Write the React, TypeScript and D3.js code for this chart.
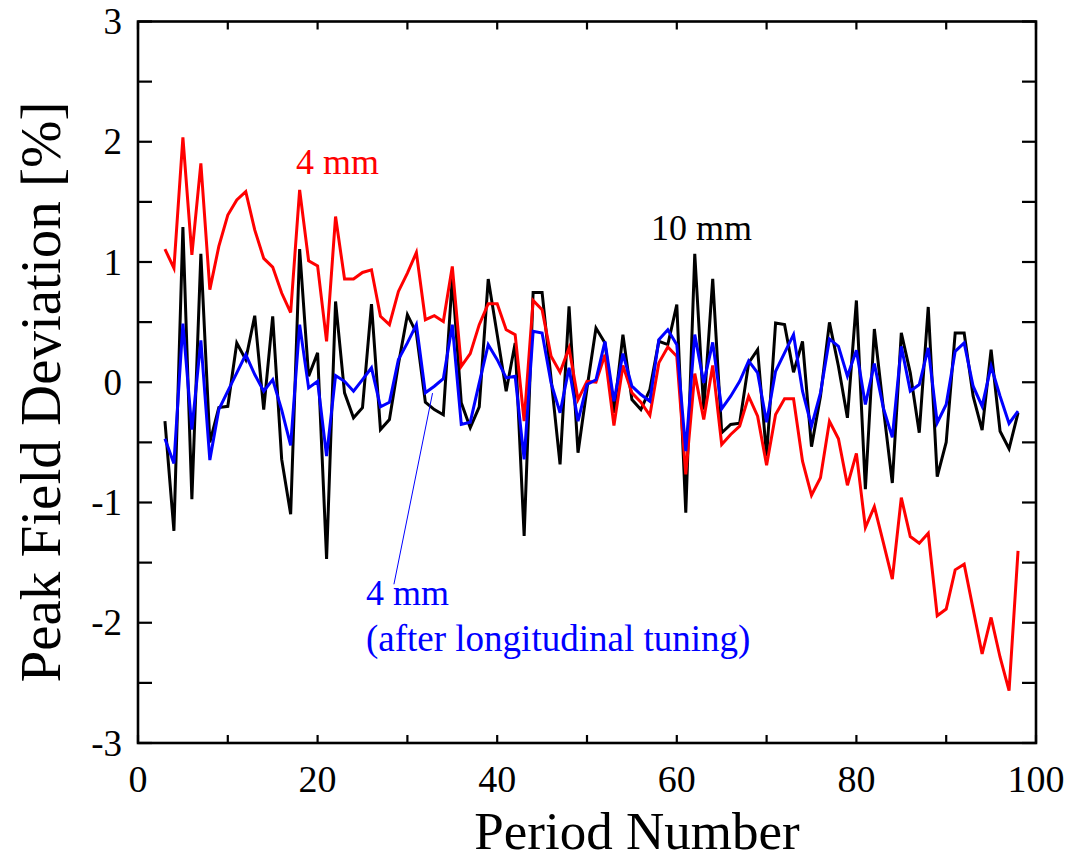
import React from "react";
import * as d3 from "d3";

const periods: number[] = d3.range(3, 99);

const black10mm: number[] = [
  -0.324, -1.236, 1.29, -0.973, 1.068, -0.5, -0.21, -0.2, 0.327, 0.188,
  0.553, -0.227, 0.548, -0.64, -1.098, 1.107, 0.05, 0.244, -1.47, 0.672,
  -0.088, -0.296, -0.212, 0.65, -0.393, -0.31, 0.15, 0.562, 0.41, -0.166,
  -0.227, -0.27, 0.866, -0.171, -0.378, -0.204, 0.858, 0.396, -0.074, 0.327,
  -1.278, 0.747, 0.747, 0.03, -0.683, 0.631, -0.586, -0.05, 0.451, 0.327,
  -0.254, 0.396, -0.144, -0.227, -0.061, 0.34, 0.313, 0.645, -1.084, 1.068,
  -0.227, 0.86, -0.42, -0.351, -0.34, 0.16, 0.271, -0.614, 0.493, 0.479,
  0.083, 0.34, -0.536, -0.116, 0.498, 0.133, -0.296, 0.68, -0.89, 0.443,
  -0.213, -0.838, 0.41, 0.078, -0.42, 0.626, -0.785, -0.498, 0.41, 0.41,
  -0.116, -0.398, 0.271, -0.407, -0.553, -0.254,
];

const red4mm: number[] = [
  1.107, 0.949, 2.036, 1.06, 1.82, 0.77, 1.13, 1.39, 1.516, 1.585,
  1.267, 1.03, 0.958, 0.742, 0.58, 1.6, 1.01, 0.968, 0.34, 1.378,
  0.858, 0.858, 0.913, 0.935, 0.548, 0.479, 0.755, 0.908, 1.079, 0.52,
  0.553, 0.506, 0.963, 0.133, 0.238, 0.479, 0.653, 0.653, 0.437, 0.396,
  -0.324, 0.68, 0.603, 0.216, 0.083, 0.285, -0.144, 0.008, 0.0, 0.23,
  -0.36, 0.139, -0.088, -0.166, -0.276, 0.161, 0.294, 0.216, -0.766, 0.072,
  -0.31, 0.139, -0.517, -0.434, -0.365, -0.116, -0.282, -0.691, -0.268, -0.138,
  -0.138, -0.656, -0.94, -0.794, -0.324, -0.47, -0.857, -0.592, -1.209, -1.034,
  -1.333, -1.637, -0.96, -1.283, -1.339, -1.256, -1.942, -1.886, -1.56, -1.513,
  -1.886, -2.26, -1.956, -2.287, -2.564, -1.402,
];

const blue4mmTuned: number[] = [
  -0.47, -0.675, 0.487, -0.393, 0.349, -0.647, -0.227, -0.074, 0.078, 0.23,
  0.064, -0.074, 0.022, -0.23, -0.525, 0.479, -0.047, 0.008, -0.614, 0.056,
  0.008, -0.074, 0.022, 0.12, -0.204, -0.166, 0.188, 0.327, 0.479, -0.088,
  -0.033, 0.03, 0.479, -0.351, -0.332, -0.005, 0.313, 0.188, 0.036, 0.05,
  -0.641, 0.423, 0.41, -0.005, -0.254, 0.12, -0.324, -0.019, 0.02, 0.34,
  -0.158, 0.238, -0.033, -0.102, -0.158, 0.354, 0.437, 0.313, -0.573, 0.396,
  -0.005, 0.332, -0.221, -0.116, 0.008, 0.178, 0.078, -0.332, 0.091, 0.244,
  0.396, -0.074, -0.365, -0.088, 0.36, 0.299, 0.05, 0.266, -0.185, 0.155,
  -0.213, -0.458, 0.299, -0.074, -0.019, 0.285, -0.337, -0.185, 0.257, 0.327,
  -0.033, -0.199, 0.133, -0.116, -0.343, -0.241,
];

const xTicks: number[] = d3.range(0, 101, 10);
const xLabels: number[] = [0, 20, 40, 60, 80, 100];
const yTicks: number[] = d3.range(-3, 3.01, 0.5);
const yLabels: number[] = [-3, -2, -1, 0, 1, 2, 3];

const W = 1066;
const H = 861;
const FONT = "'Liberation Serif', 'Times New Roman', serif";

export default function App() {
  const x = d3.scaleLinear().domain([0, 100]).range([138, 1036]);
  const y = d3.scaleLinear().domain([-3, 3]).range([743, 21.5]);

  const line = d3
    .line<number>()
    .x((_, i) => x(periods[i]))
    .y((d) => y(d));

  const [x0, x1] = x.range();
  const [y0, y1] = y.range();
  const tickX = 8;
  const tickY = 14;

  return (
    <svg
      width={W}
      height={H}
      style={{ position: "absolute", left: 0, top: 0, background: "#fff" }}
      fontFamily={FONT}
    >
      <rect x={0} y={0} width={W} height={H} fill="#fff" />
      {/* data lines */}
      <path d={line(black10mm) || ""} fill="none" stroke="#000" strokeWidth={3} strokeLinejoin="miter" />
      <path d={line(red4mm) || ""} fill="none" stroke="#ff0000" strokeWidth={3} strokeLinejoin="miter" />
      <path d={line(blue4mmTuned) || ""} fill="none" stroke="#0000ff" strokeWidth={3} strokeLinejoin="miter" />

      {/* pointer line */}
      <line x1={x(32.8)} y1={y(-0.09)} x2={x(28.5)} y2={y(-1.68)} stroke="#0000ff" strokeWidth={1} />

      {/* frame */}
      <rect x={x0} y={y1} width={x1 - x0} height={y0 - y1} fill="none" stroke="#000" strokeWidth={2.6} />

      {/* x ticks */}
      {xTicks.map((t) => (
        <g key={"xt" + t}>
          <line x1={x(t)} x2={x(t)} y1={y0} y2={y0 - tickX} stroke="#000" strokeWidth={2.2} />
          <line x1={x(t)} x2={x(t)} y1={y1} y2={y1 + tickX} stroke="#000" strokeWidth={2.2} />
        </g>
      ))}
      {/* y ticks */}
      {yTicks.map((t) => (
        <g key={"yt" + t}>
          <line x1={x0} x2={x0 + tickY} y1={y(t)} y2={y(t)} stroke="#000" strokeWidth={2.2} />
          <line x1={x1} x2={x1 - tickY} y1={y(t)} y2={y(t)} stroke="#000" strokeWidth={2.2} />
        </g>
      ))}

      {/* x labels */}
      {xLabels.map((t) => (
        <text key={"xl" + t} x={x(t)} y={792} fontSize={38} textAnchor="middle" fill="#000">
          {t}
        </text>
      ))}
      {/* y labels */}
      {yLabels.map((t) => (
        <text
          key={"yl" + t}
          x={122}
          y={y(t)}
          fontSize={37}
          textAnchor="end"
          dominantBaseline="central"
          fill="#000"
        >
          {t}
        </text>
      ))}

      {/* axis titles */}
      <text x={637} y={849} fontSize={53} textAnchor="middle" fill="#000">
        Period Number
      </text>
      <text
        transform={`translate(60, 392) rotate(-90)`}
        fontSize={57}
        textAnchor="middle"
        fill="#000"
      >
        Peak Field Deviation [%]
      </text>

      {/* annotations */}
      <text x={296} y={174} fontSize={36} fill="#ff0000">
        4 mm
      </text>
      <text x={651} y={240} fontSize={36} fill="#000">
        10 mm
      </text>
      <text x={366} y={605} fontSize={36} fill="#0000ff">
        4 mm
      </text>
      <text x={366} y={651} fontSize={37} fill="#0000ff">
        (after longitudinal tuning)
      </text>
    </svg>
  );
}
